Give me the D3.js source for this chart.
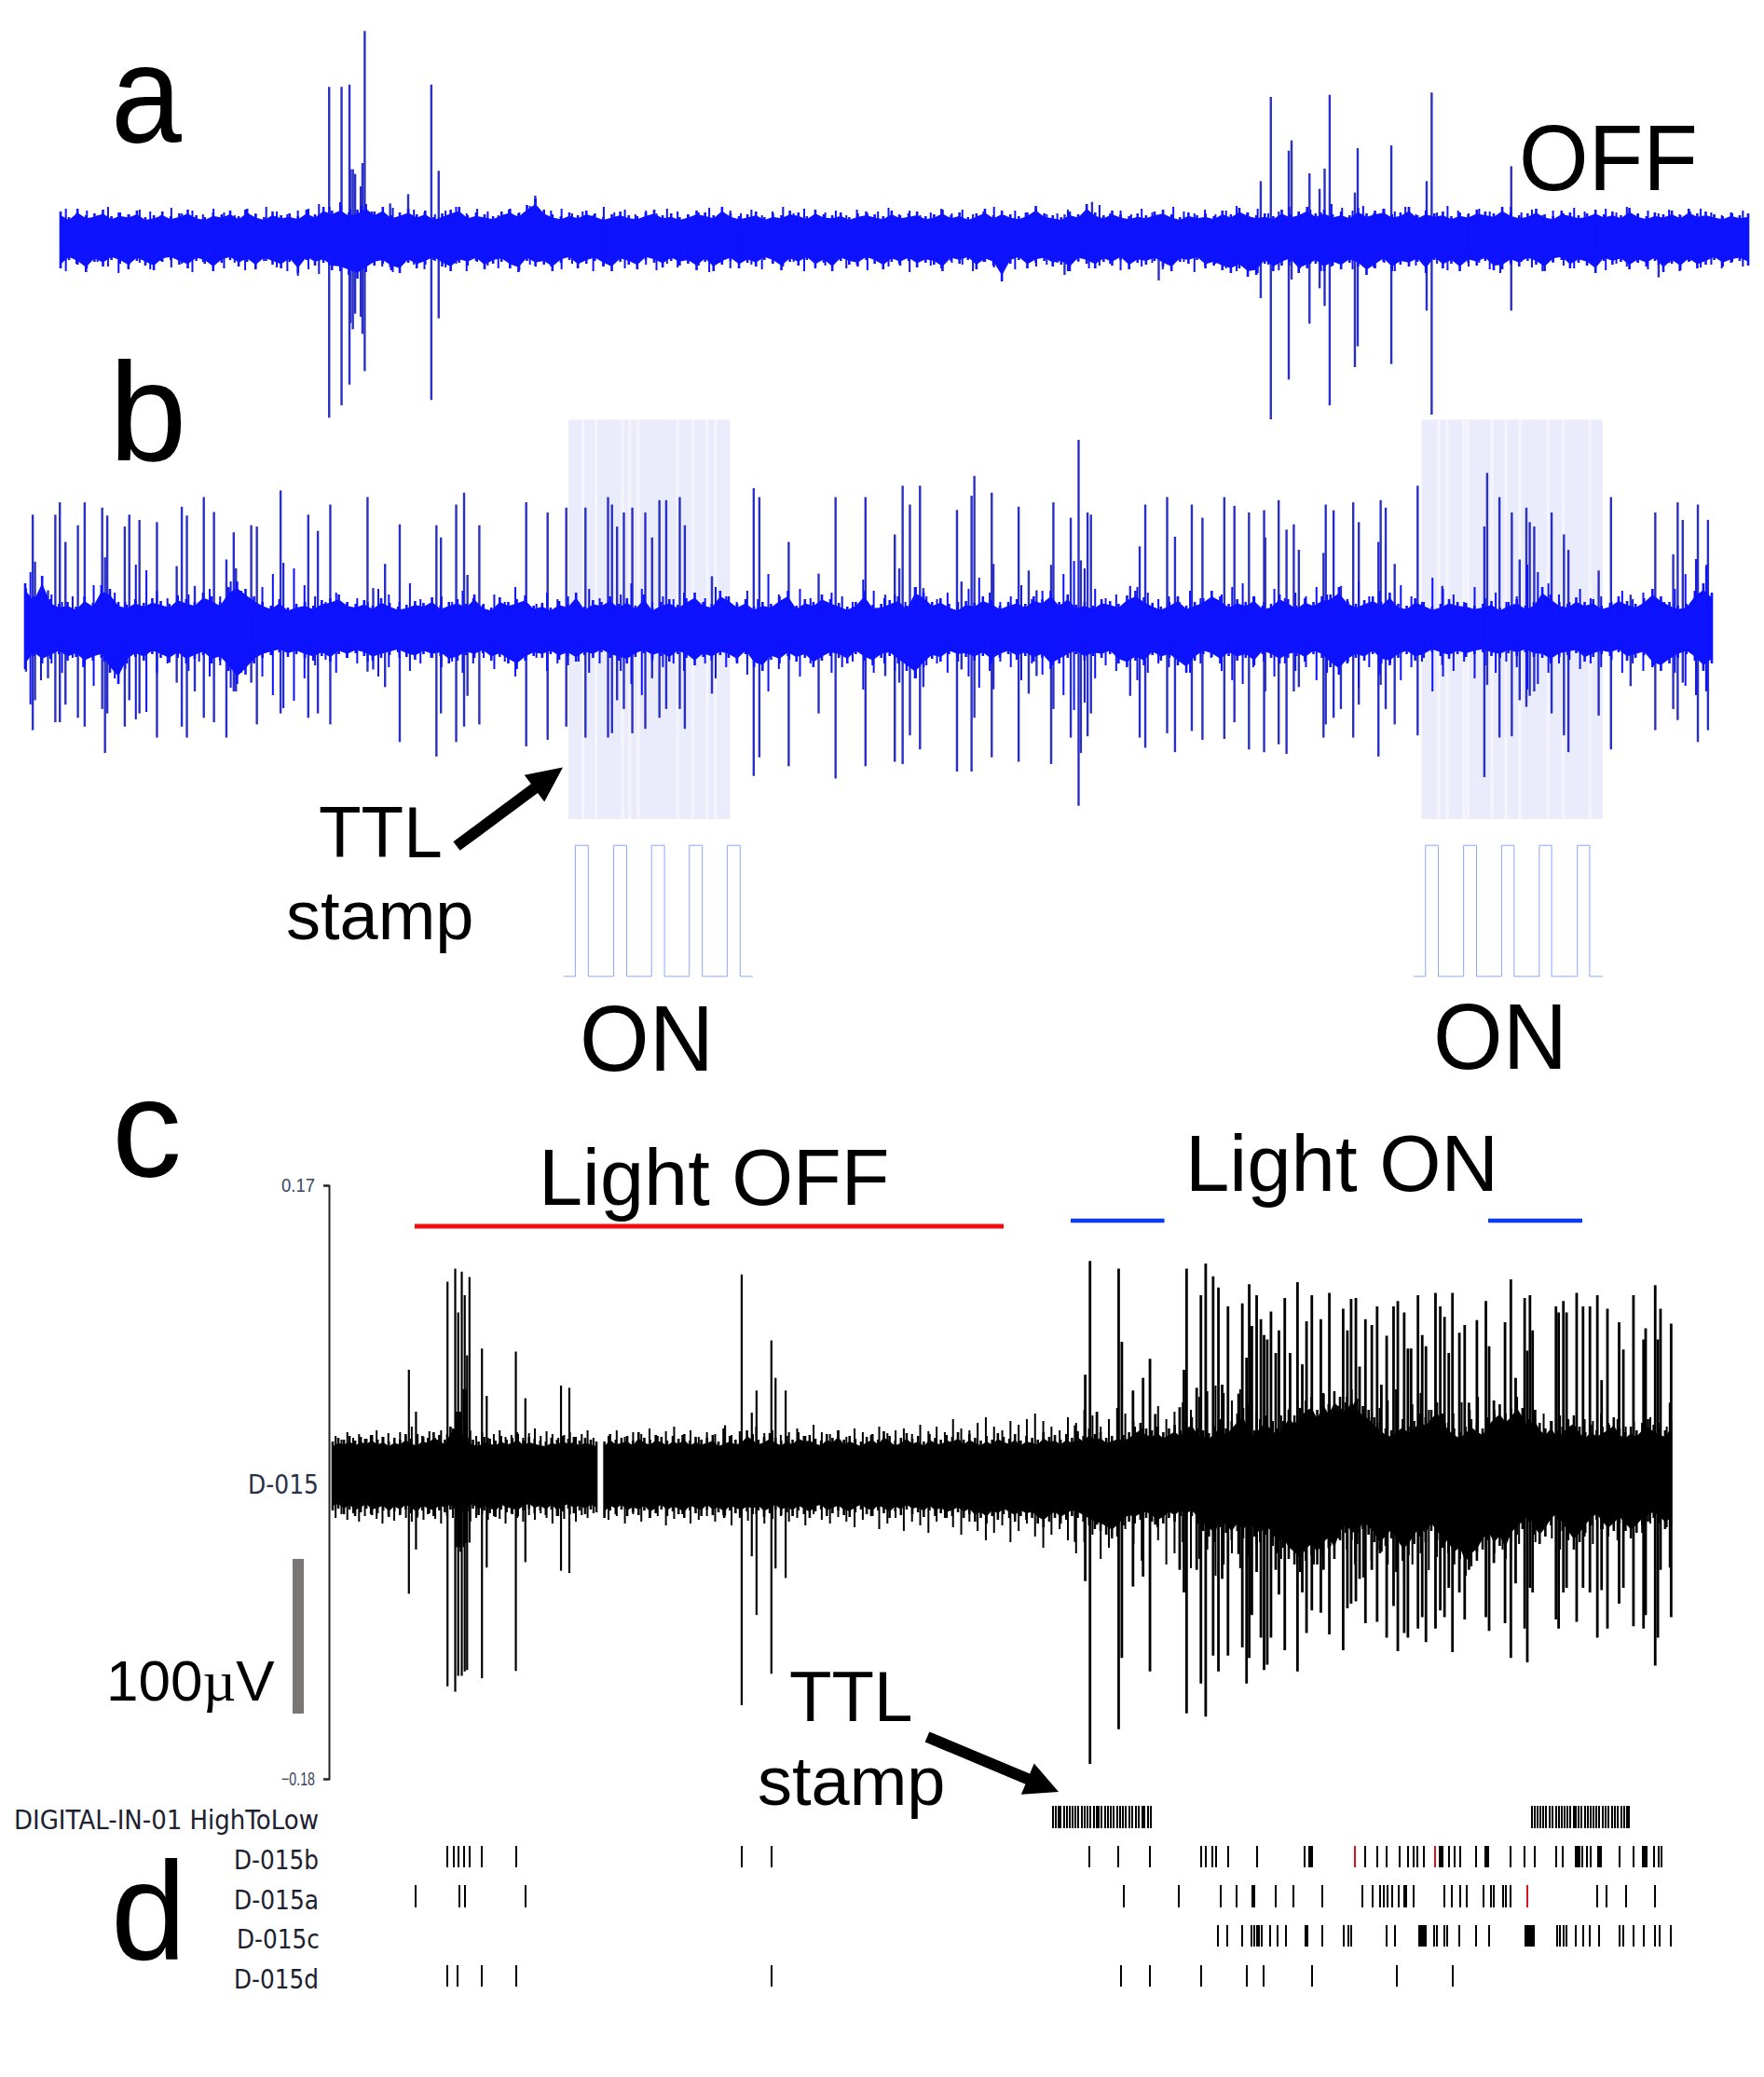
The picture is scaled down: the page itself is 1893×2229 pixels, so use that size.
<!DOCTYPE html>
<html><head><meta charset="utf-8">
<script src="https://cdn.jsdelivr.net/npm/d3@7"></script>
<style>html,body{margin:0;background:#fff;overflow:hidden}text{font-family:"Liberation Sans",Arial,sans-serif;fill:#000}</style>
</head><body><svg id="c" width="1893" height="2229"></svg>
<script>
// ---------- panel a: envelope (uV-like units around the baseline) ----------
const aEnvTop=[28,22,31,24,26,30,23,27,25,29,22,24,28,23,26,30,24,22,27,25,29,23,31,25,22,28,24,26,23,30,25,33,29,34,27,30,36,28,33,24,27,31,25,29,22,26,30,33,24,27,25,23,28,31,26,35,42,30,25,23,27,24,29,26,22,25,28,24,23,27,30,24,26,22,25,29,27,24,33,26,23,25,28,22,26,24,29,27,23,30,25,24,27,22,26,28,25,23,29,24,26,28,23,25,30,24,27,22,26,31,24,29,25,23,27,34,26,24,22,28,25,36,27,24,29,25,23,26,24,28,30,25,22,27,24,26,23,29,25,32,27,24,26,23,30,25,28,33,26,30,25,28,24,32,26,29,31,25,27,33,24,29,26,28,23,27,25,30,28,26,33,27,24,26,31,25,23,29,27,24,26,30,25,28,24,32,26,23,27,25,29,24,31,26,28,25,23,27,24,26];
const aEnvBot=[33,24,29,37,26,31,24,28,34,25,30,35,26,24,29,33,25,28,36,27,24,31,26,34,25,29,33,26,38,24,30,27,35,36,40,44,37,30,28,35,38,27,33,29,24,31,36,27,30,25,34,28,26,33,37,25,31,29,36,27,24,33,28,25,31,36,26,29,34,24,27,32,25,30,28,35,26,36,29,25,33,27,31,24,28,35,26,30,24,33,27,36,25,29,31,24,28,34,26,30,25,32,27,29,36,25,28,24,34,26,30,47,28,24,33,27,25,31,29,36,25,28,33,26,30,24,34,27,29,25,31,36,26,28,24,33,30,35,38,33,42,40,28,36,30,26,38,33,28,36,30,34,27,31,40,33,26,36,29,31,26,38,24,33,28,36,27,30,25,35,34,27,31,25,29,36,26,24,33,27,30,38,25,29,26,34,27,31,25,37,28,35,26,33,29,24,31,27,25,30];
const aNeedleTop=[31,26,29,24,33,27,25,30,28,24,32,26,29,25,31,27,24,30,26,33,28,25,29,31,36,33,38,30,34,28,26,32,24,30,27,25,29,33,26,31,28,24,30,27,34,25,29,31,26,28,24,33,27,30,25,29,26,31,28,24,27,32,25,29,26,30,24,28,33,26,31,25,27,29,24,30,26,28,32,25,29,24,27,31,26,30,25,28,33,24,29,27,31,25,26,30,24,28,35,26,29,25,31,27,24,33,28,26,30,25,29,34,27,31,26,28,33,25,30,27,36,32,29,34,26,31,28,33,25,30,27,34,29,26,31,28,25,33,27,30,24,29,26,32,28,25,31,27,33,24,29,26,30,25,28,31,27,24,26,29];
const aNeedleBot=[36,28,33,26,31,38,29,27,34,25,32,28,37,26,30,33,27,35,29,25,32,36,41,34,39,30,36,28,33,26,31,37,27,29,34,25,32,28,36,26,30,33,27,35,29,25,31,34,28,26,36,30,27,33,25,29,35,28,32,26,30,37,27,33,25,29,34,28,31,26,36,27,30,25,33,29,35,26,31,28,37,25,30,33,27,29,36,26,32,28,34,25,31,29,27,36,26,33,30,28,35,25,31,27,34,29,26,37,30,28,33,36,31,38,29,35,30,33,28,36,31,26,34,29,32,27,36,26,30,33,28,35,25,31,27,34,38,29,26,32,36,27,30,33,25,29,35,28,31,26,34,30,27,36,25,32,29,33,26,31];
const aSpikes=[[583,280,1345],[605,280,1305],[619,272,1238],[646,100,1195],[625,545,1060],[621,545,1040],[629,560,1010],[642,525,1075],[639,600,1020],[764,272,1288],[777,550,1025],[723,625,800],[691,655,860],[948,630,820]];
const aSpikes2=[[670,583,960],[688,312,1350],[720,485,1222],[725,452,900],[757,558,1042],[775,608,928],[784,543,985],[793,305,1305],[838,620,1182],[843,477,1115],[903,468,1172],[966,583,1000],[975,298,1335],[1117,535,1000],[488,700,903],[320,690,885],[369,650,830],[1380,760,893]];
// ---------- panel b ----------
const bEnvTop=[50,36,58,33,28,30,25,36,29,48,44,30,27,33,29,34,31,28,37,33,30,40,36,30,46,52,44,36,30,26,33,24,28,30,26,32,34,38,30,28,32,26,34,29,25,27,31,29,35,26,30,33,28,38,27,24,35,30,33,37,26,29,24,31,28,40,25,32,30,36,28,34,26,38,24,30,33,27,34,40,30,28,42,36,28,33,25,30,28,36,42,26,33,30,38,33,29,25,30,42,27,28,32,36,26,46,40,30,34,28,24,31,29,36,32,26,30,33,28,36,33,42,30,38,27,30,26,33,31,28,37,42,35,29,25,30,36,26,30,34,42,36,28,33,30,36,26,28,38,33,26,34,30,36,38,46,33,28,32,36,30,40,28,26,34,30,25,28,33,30,29,26,28,31,24,30,33,26,30,46,38,30,28,35,30,33,26,29,36,31,28,34,44,36,30,26,28,42,50,40];
const bEnvBot=[42,28,36,31,26,33,29,38,33,30,46,58,36,29,33,26,30,35,28,36,31,27,36,33,44,58,48,36,30,27,24,29,26,30,33,28,34,26,30,25,28,33,30,27,24,29,32,26,30,28,36,33,27,30,25,33,29,36,42,33,28,30,26,32,28,34,27,30,24,30,33,36,29,25,31,28,34,26,30,38,29,33,27,30,36,26,40,44,32,36,28,34,30,40,33,28,30,36,26,33,38,30,28,36,44,52,40,31,34,26,30,29,33,28,36,30,26,32,28,34,30,42,36,30,26,33,28,30,26,36,40,33,38,27,33,30,38,46,33,26,29,36,28,33,30,38,26,30,36,30,28,34,26,30,40,48,36,30,33,26,36,38,30,26,33,30,24,28,31,26,29,26,24,28,30,25,28,24,29,30,36,29,27,25,34,29,26,28,24,33,30,27,40,44,36,30,26,33,44,36];
const bNeedleTop=[62,44,38,30,36,28,48,33,40,30,70,64,42,34,28,38,30,44,36,52,42,33,46,60,72,66,48,36,30,40,28,34,30,44,38,30,50,33,28,36,30,42,34,28,38,30,46,32,28,40,33,36,30,44,34,28,38,50,44,30,36,33,40,28,34,46,36,30,42,33,60,38,30,44,34,28,40,36,30,54,42,34,38,30,46,36,33,40,30,44,56,40,30,36,48,33,42,34,60,74,66,44,34,38,30,46,40,33,36,30,42,34,28,38,46,50,36,30,44,34,40,36,46,38,33,30,52,36,42,34,48,36,30,56,44,38,30,46,34,40,30,36,70,62,50,38,30,44,34,36,30,42,33,40,36,30,44,60,76,70];
const bNeedleBot=[80,54,36,46,30,40,60,34,52,42,96,88,46,36,30,44,34,50,38,62,46,34,50,70,84,76,52,38,32,46,30,36,34,50,40,30,44,36,30,40,34,46,36,30,42,34,50,33,30,44,36,38,34,46,36,30,44,58,70,34,40,36,44,30,36,52,40,34,48,36,66,42,32,50,36,30,46,40,34,64,46,36,44,34,52,38,36,46,34,50,62,44,34,40,54,36,48,38,70,86,78,52,38,44,34,54,46,36,40,34,46,36,30,44,54,58,40,34,50,36,44,40,54,46,36,34,62,40,48,36,54,40,34,66,50,44,34,52,38,46,34,40,64,58,46,36,32,42,36,40,32,46,36,44,38,32,46,60,70,64];
const bSpikesL=[[46,405,595],[58,238,728],[62,345,660],[85,410,610],[98,238,710],[106,210,710],[116,300,670],[138,262,700],[150,210,720],[181,222,680],[186,335,780],[190,240,690],[221,265,720],[229,238,660],[247,250,690],[278,255,745],[313,355,620],[322,220,720],[331,240,745],[345,400,640],[361,198,700],[379,232,710],[401,340,745],[414,278,640],[418,360,640],[445,262,620],[455,265,715],[497,183,690],[546,238,700],[563,275,690],[585,215,715],[651,198,595],[661,405,590],[682,350,630],[708,260,755],[773,262,788],[781,290,690],[808,215,755],[822,188,720],[828,375,650],[849,262,715],[932,210,765],[970,233,750],[1003,222,720],[1037,222,745],[1077,198,745],[1084,215,735],[1093,265,660],[1105,233,680],[1120,222,735],[1143,233,725],[1155,290,610],[1168,205,700],[1180,205,680],[1204,198,680],[1213,262,725],[1261,378,645],[1335,178,832],[1345,198,790],[1397,300,810],[1450,372,690],[1480,198,838],[1533,198,810]];
const bSpikesR=[[0,420,605],[17,283,800],[25,360,620],[31,172,805],[44,215,740],[62,172,772],[68,405,630],[128,227,822],[136,390,590],[154,195,822],[159,150,700],[190,188,790],[193,350,635],[238,220,800],[256,365,645],[270,410,605],[296,352,805],[300,210,680],[331,245,745],[345,68,900],[349,342,780],[361,233,742],[367,238,690],[437,400,650],[454,310,745],[464,215,768],[503,198,735],[517,288,778],[547,215,730],[566,245,750],[605,198,748],[623,218,710],[649,233,772],[676,228,778],[678,290,640],[702,205,760],[716,272,782],[729,260,640],[738,318,630],[786,215,715],[782,325,745],[800,228,700],[813,400,680],[835,210,745],[845,255,670],[880,300,788],[884,205,625],[893,222,680],[909,350,715],[950,172,740],[994,400,580],[1069,265,835],[1074,143,625],[1096,198,745],[1118,233,742],[1132,340,660],[1144,222,675],[1150,255,650],[1158,265,640],[1189,233,690],[1211,283,740],[1219,318,778],[1273,365,695],[1295,198,772],[1330,420,628],[1374,233,728],[1406,328,680],[1414,210,705],[1423,250,620],[1450,215,755],[1465,355,640],[1468,250,728]];
const bStripesL=[1030,1053,1100,1113,1128,1198,1225,1250,1265];
const bStripesR=[985,1000,1030,1037,1080,1105,1130,1180,1207,1255];
const pulseL=[[998,1288],[1019,1288],[1019,990],[1042,990],[1042,1288],[1087,1288],[1087,990],[1110,990],[1110,1288],[1154,1288],[1154,990],[1177,990],[1177,1288],[1221,1288],[1221,990],[1244,990],[1244,1288],[1288,1288],[1288,990],[1311,990],[1311,1288],[1333,1288]];
const pulseR=[[943,1288],[964,1288],[964,990],[987,990],[987,1288],[1032,1288],[1032,990],[1055,990],[1055,1288],[1100,1288],[1100,990],[1122,990],[1122,1288],[1167,1288],[1167,990],[1189,990],[1189,1288],[1235,1288],[1235,990],[1257,990],[1257,1288],[1280,1288]];
// ---------- panel c ----------
const cEnvTopL=[36,40,38,42,37,41,39,43,38,41,36,40,38,44,39,37,42,40,46,43,38,52,60,44,40,38,36,41,39,37,42,38,40,44,37,41,39,37,36,40,38,42,39,41,37,40,38,36];
const cEnvBotL=[38,36,42,37,44,40,36,43,41,38,45,39,43,37,41,46,38,42,44,38,40,37,44,40,39,36,43,38,41,45,37,40,42,44,38,36,41,38,43,37,44,39,36,41,38,42,37,40];
const cNeedleTopL=[42,38,46,40,44,39,43,48,41,45,40,46,42,52,44,41,47,40,48,44,50,64,68,48,42,46,40,44,48,41,43,46,40,45,50,42,47,44,40,43,46,41,44,48,40];
const cNeedleBotL=[46,42,48,41,50,44,42,47,52,43,49,41,46,50,44,48,41,47,52,44,46,42,60,50,46,42,48,44,47,52,41,46,50,43,48,41,46,52,44,47,42,50,43,46,41];
const cEnvTopR=[36,44,38,40,42,37,46,40,38,43,41,37,42,39,44,37,41,38,40,43,36,39,42,38,40,48,44,38,41,45,40,37,42,38,46,42,43,39,37,44,40,48,38,42,39,36,41,44,38,47,42,37,40,45,39,42,36,44,40,38,43,41,46,38,44,40,37,42,38,45,41,39,44,37,42,40,38,46,41,43,38,44,40,47,42,50,44,46,40,42,45,43,46,52,56,50,48,52,46,50,54,48,58,62,50,48,45,52,60,50,58,66,72,56,48,60,64,56,50,58,70,64,72,80,84,70,88,76,90,84,78,92,82,74,70,62,56,50,48,54,60,52,58,66,62,70,78,66,56,50,46,52,60,54,50,62,70,76,66,72,84,72,60,70,56,50,58,48,52,60,64,52,46,54,48,52,56,62,50,46,52,48,56,60,54,50,48,58];
const cEnvBotR=[46,38,42,37,44,40,43,38,46,41,37,44,39,42,46,38,41,44,37,43,40,46,38,41,44,39,42,38,45,41,37,43,40,44,38,42,46,39,37,44,41,38,43,45,40,37,42,44,38,41,46,39,43,37,42,40,45,38,44,41,46,44,40,46,42,50,46,52,44,48,42,46,50,44,48,46,52,56,50,46,52,48,44,46,50,54,58,60,64,68,62,54,50,52,48,46,50,56,52,46,50,44,48,44,52,60,66,72,56,62,70,60,68,60,66,72,64,70,84,78,90,96,104,92,86,96,84,78,90,70,62,70,74,58,64,72,84,76,68,80,92,86,74,66,72,60,70,78,84,96,90,108,98,92,80,70,84,76,90,72,64,58,50,64,74,66,54,48,60,70,80,72,62,54,48,58,66,60,52,60,68,62,54,50,46,52,58,54,48,56,52,50];
const cNeedleTopR=[42,48,41,46,44,50,42,47,52,43,48,41,46,44,50,43,47,41,52,45,48,43,46,50,42,54,46,44,48,41,50,46,43,52,45,48,50,44,54,47,52,46,60,50,48,56,62,52,48,58,54,60,66,58,52,48,62,56,70,64,52,60,72,66,58,50,64,74,60,68,78,70,84,90,96,88,80,92,76,68,62,58,64,72,80,70,62,56,66,74,84,78,70,62,72,80,92,84,76,88,70,62,56,66,78,70,84,74,66,58,62,54,60,70,66,58,64,56,52,60,58,66,54,60,52,58,50,62,56,52];
const cNeedleBotR=[48,44,52,42,50,46,44,54,47,42,52,48,44,50,43,54,46,49,42,52,47,44,50,46,54,42,48,52,45,50,56,48,44,58,52,46,60,50,54,62,50,46,56,64,50,60,70,62,54,72,60,52,66,78,64,58,70,84,72,64,90,78,66,58,74,92,80,70,96,84,72,100,90,80,108,96,84,100,88,76,64,76,90,72,62,84,96,86,76,68,80,96,110,92,80,96,104,112,96,84,102,88,72,64,80,92,76,88,66,80,92,74,60,72,56,68,80,60,50,66,74,58,52,70,60,50,62,52,48,56];
const cSpikesL=[[688,557,1053],[700,650,955],[753,362,1258],[766,333,1270],[771,430,1235],[777,340,1235],[782,392,1225],[786,525,1222],[790,352,940],[768,650,950],[773,650,950],[775,650,960],[780,600,950],[784,600,940],[811,510,1240],[819,615,995],[868,517,1224],[884,620,983],[944,592,1002],[958,597,1007],[1248,346,1300],[1265,652,970],[1273,603,1100],[1298,492,1230],[1305,575,997],[1322,603,1018],[1220,680,880]];
const cSpikesR=[[270,680,938],[289,568,1025],[298,316,1430],[311,650,900],[352,333,1353],[358,495,1195],[379,603,1037],[398,575,1015],[411,533,1225],[421,655,900],[467,640,1000],[475,557,1050],[480,333,1318],[499,597,1000],[507,392,1252],[516,322,1325],[530,350,1190],[540,375,1225],[547,590,1020],[558,417,1190],[578,610,965],[585,410,1172],[593,530,1252],[598,368,1195],[603,460,1100],[612,392,1005],[620,445,1150],[626,480,1222],[632,490,1210],[639,428,1150],[648,520,1000],[654,470,1055],[665,398,1178],[675,520,950],[689,363,1225],[698,545,1050],[706,450,1140],[716,392,1090],[733,445,1095],[738,610,1000],[749,387,1143],[775,422,1178],[783,470,1085],[790,400,1075],[799,398,1070],[806,550,1020],[817,445,1118],[829,458,1000],[839,417,1115],[847,590,960],[857,482,1150],[870,417,1080],[878,405,1180],[890,430,1140],[897,510,1150],[903,510,890],[916,392,1130],[924,480,1105],[931,505,1160],[949,387,1130],[958,417,1090],[966,440,1105],[974,520,1040],[981,387,1182],[994,475,1050],[1004,458,1110],[1012,630,1000],[1027,447,960],[1044,405,1105],[1050,505,1135],[1059,625,985],[1080,452,1118],[1091,357,1195],[1100,575,1030],[1117,398,1130],[1122,515,1205],[1127,392,1040],[1132,470,1050],[1176,417,1110],[1181,430,1130],[1190,405,1050],[1196,430,1040],[1215,387,1115],[1227,417,1040],[1240,417,1050],[1254,392,1150],[1262,580,1045],[1273,422,1130],[1295,452,1075],[1303,512,1040],[1322,392,1125],[1341,490,1130],[1345,465,1100],[1363,370,1212],[1368,490,1150],[1373,422,1000],[1391,630,995],[1393,455,1105]];
// ---------- rasters (panel d) ----------
const rows=["D-015b","D-015a","D-015c","D-015d"];
const rasterL={ "D-015b":[753,763,772,781,790,811,868,1248,1298], "D-015a":[700,773,783,884], "D-015c":[], "D-015d":[753,770,811,868,1298] };
const rasterR={ "D-015b":[297,352,411,507,516,528,536,558,612,703,711,714,717,817,839,857,881,897,907,915,927,957,960,963,975,985,995,1026,1043,1046,1049,1090,1117,1136,1176,1189,1214,1217,1220,1226,1235,1241,1255,1258,1261,1295,1322,1340,1343,1346,1361,1369,1375],
 "D-015a":[361,466,544,575,604,607,648,681,735,812,831,844,851,858,867,880,890,894,908,966,979,995,1008,1040,1053,1058,1076,1081,1090,1254,1272,1309,1363],
 "D-015c":[539,557,585,603,607,612,617,622,638,652,667,704,708,735,776,785,790,857,872,918,921,924,927,930,946,951,966,971,994,1026,1050,1118,1121,1124,1127,1130,1135,1178,1183,1190,1195,1213,1227,1240,1258,1295,1303,1322,1341,1363,1372,1392],
 "D-015d":[357,411,507,593,625,717,876,981] };
const rasterRed={ "D-015b":[797,948], "D-015a":[1122], "D-015c":[], "D-015d":[] };
const ttlBursts=[229,233,238,243,249,254,260,265,270,276,282,288,294,299,305,311,315,320,327,332,338,343,349,355,360,366,372,378,384,390,396,401,407,412,1131,1136,1141,1147,1152,1158,1164,1170,1176,1181,1187,1193,1197,1203,1209,1213,1219,1224,1230,1236,1241,1247,1252,1258,1264,1270,1275,1281,1287,1293,1299,1305,1310,1314];
const axisTicks=[0.17,-0.18];

const svg=d3.select("#c");
svg.append("rect").attr("width",1893).attr("height",2229).attr("fill","#fff");
const BLUE="#0d12ff", SPK="#2a30c6", CORE=0.86;
function spikes(data,xs,ys,color,w){
  svg.append("g").attr("stroke",color).attr("stroke-width",w).selectAll("line").data(data).join("line")
   .attr("x1",d=>xs(d[0])).attr("x2",d=>xs(d[0])).attr("y1",d=>ys(d[1])).attr("y2",d=>ys(d[2]));
}
function band(top,bot,nTop,nBot,x0,x1,cy,color){
  const n=Math.min(top.length,bot.length);
  const xs=d3.scaleLinear().domain([0,n-1]).range([x0,x1]);
  const ys=d3.scaleLinear().domain([-120,120]).range([cy+120,cy-120]);
  // solid core of the noise band, then one needle per envelope reading
  const area=d3.area().x((d,i)=>xs(i)).y0((d,i)=>ys(-bot[i]*CORE)).y1(d=>ys(d*CORE));
  svg.append("path").attr("d",area(top.slice(0,n))).attr("fill",color);
  const needles=(vals,sign,off,w)=>{
    const xn=d3.scaleLinear().domain([-off,vals.length-1+off]).range([x0,x1]);
    svg.append("g").attr("stroke",color).attr("stroke-width",w).selectAll("line").data(vals).join("line")
     .attr("x1",(d,i)=>xn(i)).attr("x2",(d,i)=>xn(i)).attr("y1",ys(0)).attr("y2",d=>ys(sign*d));
  };
  needles(top.slice(0,n),1,0,2.6);needles(bot.slice(0,n),-1,0,2.6);
  needles(nTop,1,0.5,2);needles(nBot,-1,0.5,2);
}
// a
const yA=d3.scaleLinear().domain([0,1440]).range([0,480]);
const xAL=d3.scaleLinear().domain([0,1568]).range([0,950]);
const xAR=d3.scaleLinear().domain([0,1568]).range([950,1893]);
spikes(aSpikes,xAL,yA,SPK,2.4);spikes(aSpikes2,xAR,yA,SPK,2.4);
band(aEnvTop,aEnvBot,aNeedleTop,aNeedleBot,65,1876,255,BLUE);
// b
const xBL=xAL,xBR=xAR,yB=d3.scaleLinear().domain([0,1568]).range([440,1180]);
function shade(x0,x1,st,xs){
  svg.append("rect").attr("x",xs(x0)).attr("width",xs(x1)-xs(x0)).attr("y",yB(22)).attr("height",yB(930)-yB(22)).attr("fill","#ebecfb");
  svg.append("g").selectAll("rect").data(st).join("rect").attr("x",d=>xs(d)).attr("width",3).attr("y",yB(22)).attr("height",yB(930)-yB(22)).attr("fill","#f5f5fd");
}
shade(1007,1293,bStripesL,xBL);shade(957,1280,bStripesR,xBR);
spikes(bSpikesL,xBL,yB,SPK,2.4);spikes(bSpikesR,xBR,yB,SPK,2.4);
band(bEnvTop,bEnvBot,bNeedleTop,bNeedleBot,27,1837,676,BLUE);
const pl=xs=>d3.line().x(d=>xs(d[0])).y(d=>yB(d[1]));
svg.append("path").attr("d",pl(xBL)(pulseL)).attr("fill","none").attr("stroke","#8ea4ff").attr("stroke-width",1);
svg.append("path").attr("d",pl(xBR)(pulseR)).attr("fill","none").attr("stroke","#8ea4ff").attr("stroke-width",1);
// c
const yC=d3.scaleLinear().domain([0,1568]).range([1200,1960]);
const xCL=d3.scaleLinear().domain([0,1568]).range([0,1000]);
const xCR=d3.scaleLinear().domain([0,1568]).range([1000,1893]);
const yAxisC=d3.scaleLinear().domain([0.17,-0.18]).range([1272,1909]);
const ax=svg.append("g").attr("transform","translate(353,0)").call(d3.axisLeft(yAxisC).tickValues(axisTicks).tickSize(6).tickFormat(d3.format(".2f")));
ax.selectAll("path,line").attr("stroke","#222").attr("stroke-width",2);
ax.selectAll("text").attr("x",-15).attr("font-size",20).style("fill","#3a4560").attr("textLength",36).attr("lengthAdjust","spacingAndGlyphs");
spikes(cSpikesL,xCL,yC,"#000",2.2);spikes(cSpikesR,xCR,yC,"#000",2.8);
band(cEnvTopL,cEnvBotL,cNeedleTopL,cNeedleBotL,357,640,1583,"#000");
band(cEnvTopR,cEnvBotR,cNeedleTopR,cNeedleBotR,648.6,1793,1583,"#000");
// rasters
const rowOf={"D-015b":[1981,2004],"D-015a":[2023,2047],"D-015c":[2066,2089],"D-015d":[2109,2132]};
function ticks(vals,xs,y0,y1,color,w){
  svg.append("g").attr("stroke",color).attr("stroke-width",w).attr("shape-rendering","crispEdges").selectAll("line").data(vals).join("line")
   .attr("x1",d=>xs(d)).attr("x2",d=>xs(d)).attr("y1",y0).attr("y2",y1);
}
rows.forEach(r=>{const[a,b]=rowOf[r];
 ticks(rasterL[r],xCL,a,b,"#000",2);ticks(rasterR[r],xCR,a,b,"#000",2);ticks(rasterRed[r],xCR,a,b,"#d8141c",2);});
ticks(ttlBursts,xCR,1938,1962,"#000",2);
// bars
function bar(x0,x1,y,h,c){svg.append("rect").attr("x",x0).attr("width",x1-x0).attr("y",y-h/2).attr("height",h).attr("fill",c);}
bar(445,1077,1316,5,"#f00d0d");bar(1149,1249.5,1310,4.5,"#0a3cf0");bar(1597,1698,1310,4.5,"#0a3cf0");
svg.append("rect").attr("x",314).attr("width",12).attr("y",1673).attr("height",166).attr("fill","#7b7676");
// arrows
function arrow(x0,y0,x1,y1,sw,hl,hw){
  const L=Math.hypot(x1-x0,y1-y0),ux=(x1-x0)/L,uy=(y1-y0)/L,bx=x1-ux*hl,by=y1-uy*hl,nx=-uy,ny=ux;
  const pts=[[x0+nx*sw/2,y0+ny*sw/2],[bx+nx*sw/2,by+ny*sw/2],[bx+nx*hw/2,by+ny*hw/2],[x1,y1],[bx-nx*hw/2,by-ny*hw/2],[bx-nx*sw/2,by-ny*sw/2],[x0-nx*sw/2,y0-ny*sw/2]];
  svg.append("path").attr("d",d3.line()(pts)+"Z").attr("fill","#000");
}
arrow(490,908,604,823.5,12,38,36);arrow(995,1864,1136,1923,12,36,36);
// text
function T(s,x,y,fs,opt={}){
 const t=svg.append("text").attr("font-size",fs).text(s);
 t.attr("transform",`translate(${x},${y}) scale(${opt.sx||1},1)`);
 if(opt.len)t.attr("textLength",opt.len).attr("lengthAdjust","spacingAndGlyphs");
 if(opt.fill)t.style("fill",opt.fill);
 if(opt.font)t.style("font-family",opt.font);
 return t;}
T("a",119,153,150,{sx:0.91});T("b",117,494,150);T("c",120,1263,150);T("d",119,2103,150,{sx:0.97});
T("OFF",1630,204,100,{sx:0.96});
T("TTL",342,920,77,{sx:0.97});T("stamp",307,1008,74);
T("ON",622,1149,100,{sx:0.96});T("ON",1538,1147,100,{sx:0.96});
T("Light OFF",578,1293,86,{sx:0.985});T("Light ON",1272,1278,86,{sx:0.99});
T("TTL",847,1847,76,{sx:0.98});T("stamp",813,1937,74);
const mu=T("100",114,1825,62);mu.append("tspan").style("font-family","'Liberation Serif'").text("\u00b5");mu.append("tspan").text("V");
const DV="'DejaVu Sans'";
T("D-015",266,1595,28,{len:76,fill:"#2a3048",font:DV}).attr("dominant-baseline","middle");
T("DIGITAL-IN-01 HighToLow",15,1963,29,{len:327,fill:"#1c2030",font:DV});
T("D-015b",251,2006,29,{len:91,fill:"#1c2030",font:DV});
T("D-015a",251,2049,29,{len:91,fill:"#1c2030",font:DV});
T("D-015c",254,2091,29,{len:89,fill:"#1c2030",font:DV});
T("D-015d",251,2134,29,{len:91,fill:"#1c2030",font:DV});
</script></body></html>
